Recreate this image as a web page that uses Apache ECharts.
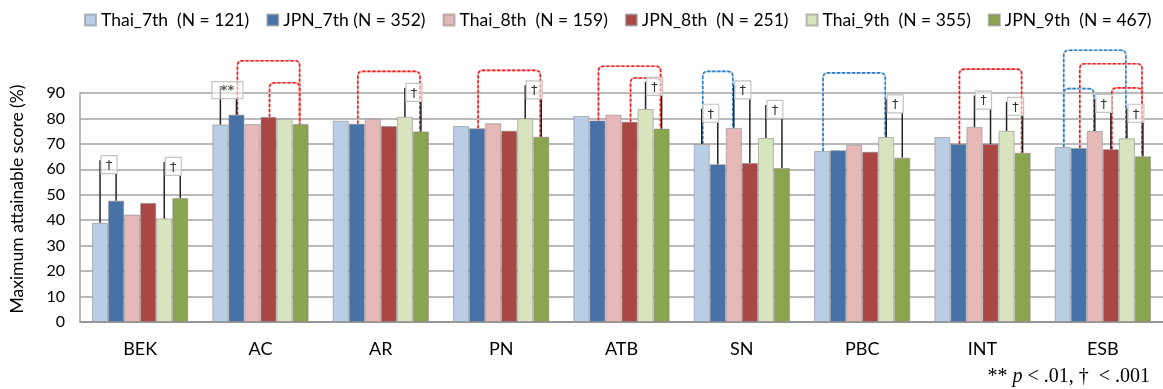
<!DOCTYPE html>
<html><head><meta charset="utf-8">
<script src="https://cdn.jsdelivr.net/npm/echarts@6/dist/echarts.min.js"></script>
<style>html,body{margin:0;padding:0;background:#fff}#c{width:1163px;height:389px}</style>
</head><body><div id="c"></div>
<script>
// ---- data ----
const categories = ['BEK','AC','AR','PN','ATB','SN','PBC','INT','ESB'];
const seriesNames = ['Thai_7th  (N = 121)','JPN_7th (N = 352)','Thai_8th  (N = 159)','JPN_8th  (N = 251)','Thai_9th  (N = 355)','JPN_9th  (N = 467)'];
const thai7 = [39.0,77.6,79.1,77.0,81.0,70.0,67.2,72.7,68.8];
const jpn7  = [47.7,81.5,77.9,76.1,79.2,62.0,67.5,70.0,68.4];
const thai8 = [42.2,77.8,79.9,78.1,81.5,76.3,69.6,76.6,75.1];
const jpn8  = [46.8,80.6,77.0,75.2,78.7,62.5,66.9,70.0,67.9];
const thai9 = [40.7,79.9,80.6,80.0,83.7,72.3,72.7,75.1,72.2];
const jpn9  = [48.7,77.8,74.9,72.8,76.0,60.5,64.6,66.5,65.1];
const yTicks = [0,10,20,30,40,50,60,70,80,90];
// significance markers: [category index, left bar, right bar, marker level (value), label]
const sigMarks = [
  [0,0,1,58.3,'†'],[0,4,5,57.6,'†'],
  [1,0,1,87.8,'**'],
  [2,4,5,86.7,'†'],
  [3,4,5,87.7,'†'],
  [4,4,5,89.1,'†'],
  [5,0,1,78.5,'†'],[5,2,3,87.7,'†'],[5,4,5,80.0,'†'],
  [6,4,5,82.2,'†'],
  [7,2,3,83.7,'†'],[7,4,5,81.2,'†'],
  [8,2,3,82.4,'†'],[8,4,5,78.5,'†']
];
// dashed brackets: [category index, from bar, to bar, bracket level (value), colour group]
const brackets = [
  [1,1,5,102.7,'red'],[1,3,5,94.0,'red'],
  [2,1,5,98.5,'red'],
  [3,1,5,98.9,'red'],
  [4,1,5,100.5,'red'],[4,3,5,95.9,'red'],
  [5,0,2,98.5,'blue'],
  [6,0,4,97.9,'blue'],
  [7,1,5,99.4,'red'],
  [8,0,4,106.8,'blue'],[8,0,2,91.7,'blue'],[8,1,5,101.5,'red'],[8,3,5,92.0,'red']
];
// ---- styles ----
const colors = ['#B9CDE5','#4672A8','#E6B9B8','#AA4644','#D7E4BD','#8BA54E'];
const allSeries = [thai7,jpn7,thai8,jpn8,thai9,jpn9];
const bracketColors = {red:{light:'#F7A8A8',dark:'#EE1C1C'}, blue:{light:'#A9CBEA',dark:'#2D7DC4'}};
const FONT = 'Lato, "Open Sans", sans-serif';

const chart = echarts.init(document.getElementById('c'), null, {renderer:'canvas'});

function barX(api, cat, k) {
  const c = api.coord([cat, 0]);
  const bw = api.size([1, 0])[0] * 0.8 / 6;
  return c[0] + (k - 2.5) * bw;
}

const barSeries = allSeries.map((d, i) => ({
  name: seriesNames[i],
  type: 'bar',
  data: d,
  barGap: '0%',
  barCategoryGap: '20%',
  itemStyle: {color: colors[i], borderColor: 'rgba(140,140,140,0.6)', borderWidth: 1},
  z: 2
}));

const bracketSeries = {
  type: 'custom',
  name: 'brackets',
  coordinateSystem: 'cartesian2d',
  clip: false,
  silent: true,
  z: 5,
  encode: {x: 0, y: 1},
  data: brackets.map((b, i) => [b[0], b[3], i]),
  renderItem: function (params, api) {
    const b = brackets[params.dataIndex];
    const cat = b[0];
    const x1 = barX(api, cat, b[1]) + 1;
    const x2 = barX(api, cat, b[2]) - 1;
    const y1 = api.coord([cat, allSeries[b[1]][cat]])[1];
    const y2 = api.coord([cat, allSeries[b[2]][cat]])[1];
    const yt = api.coord([cat, b[3]])[1];
    const r = 5;
    const path = 'M' + x1 + ' ' + y1 + ' L' + x1 + ' ' + (yt + r) + ' Q' + x1 + ' ' + yt + ' ' + (x1 + r) + ' ' + yt +
      ' L' + (x2 - r) + ' ' + yt + ' Q' + x2 + ' ' + yt + ' ' + x2 + ' ' + (yt + r) + ' L' + x2 + ' ' + y2;
    const col = bracketColors[b[4]];
    return {
      type: 'group',
      children: [
        {type: 'path', shape: {pathData: path}, style: {fill: null, stroke: col.light, lineWidth: 1.6}},
        {type: 'path', shape: {pathData: path}, style: {fill: null, stroke: col.dark, lineWidth: 1.6, lineDash: [3, 2]}}
      ]
    };
  }
};

const sigSeries = {
  type: 'custom',
  name: 'sig',
  coordinateSystem: 'cartesian2d',
  clip: false,
  silent: true,
  z: 6,
  encode: {x: 0, y: 1},
  data: sigMarks.map((s, i) => [s[0], s[3], i]),
  renderItem: function (params, api) {
    const s = sigMarks[params.dataIndex];
    const cat = s[0];
    const xa = barX(api, cat, s[1]);
    const xb = barX(api, cat, s[2]);
    const ya = api.coord([cat, allSeries[s[1]][cat]])[1];
    const yb = api.coord([cat, allSeries[s[2]][cat]])[1];
    const yBox = api.coord([cat, s[3]])[1];
    const wide = s[4].length > 1;
    const w = wide ? 31 : 16;
    const h = wide ? 17 : 18;
    const xm = (xa + xb) / 2 + (wide ? -1 : 1);
    return {
      type: 'group',
      children: [
        {type: 'line', shape: {x1: xa, y1: ya, x2: xa, y2: yBox - h * 0.75}, style: {stroke: '#222', lineWidth: 1.5}},
        {type: 'line', shape: {x1: xb, y1: yb, x2: xb, y2: yBox}, style: {stroke: '#222', lineWidth: 1.5}},
        {type: 'rect', shape: {x: xm - w / 2, y: yBox - h, width: w, height: h},
          style: {fill: 'rgba(255,255,255,0.55)', stroke: '#C4C4C4', lineWidth: 1.2}},
        {type: 'text', x: xm, y: yBox - h / 2 + 1,
          style: {text: s[4], fill: wide ? '#555' : '#333', font: (wide ? 'bold 13px ' : '13px ') + '"DejaVu Sans", sans-serif',
            align: 'center', verticalAlign: 'middle'}}
      ]
    };
  }
};

chart.setOption({
  animation: false,
  color: colors,
  legend: {
    data: seriesNames,
    left: 79,
    top: 6,
    itemWidth: 11,
    itemHeight: 11,
    itemGap: 17,
    icon: 'rect',
    textStyle: {fontFamily: FONT, fontSize: 17.5, color: '#000'}
  },
  grid: {left: 80, right: -3, top: 93, bottom: 67, containLabel: false},
  xAxis: {
    type: 'category',
    data: categories,
    axisLine: {lineStyle: {color: '#8C8C8C', width: 1.5}},
    axisTick: {show: false},
    axisLabel: {fontFamily: FONT, fontSize: 18, color: '#000', margin: 18}
  },
  yAxis: {
    type: 'value',
    min: yTicks[0],
    max: yTicks[yTicks.length - 1],
    interval: yTicks[1] - yTicks[0],
    axisLine: {show: true, lineStyle: {color: '#A3A3A3', width: 1.5}},
    axisTick: {show: false},
    splitLine: {lineStyle: {color: '#A3A3A3', width: 1.5}},
    axisLabel: {fontFamily: FONT, fontSize: 16, color: '#000', margin: 15}
  },
  graphic: [
    {type: 'text', x: 17, y: 199, rotation: Math.PI / 2,
      style: {text: 'Maximum attainable score (%)', font: '17.5px ' + FONT, fill: '#000', align: 'center', verticalAlign: 'middle'}},
    {type: 'text', right: 13, top: 367,
      style: {rich: {n: {fontFamily: '"Liberation Serif", serif', fontSize: 20, fill: '#000'},
                     i: {fontFamily: '"Liberation Serif", serif', fontSize: 20, fontStyle: 'italic', fill: '#000'}},
              text: '{n|** }{i|p}{n| < .01, †  < .001}'}}
  ],
  series: barSeries.concat([bracketSeries, sigSeries])
});
</script>
</body></html>
